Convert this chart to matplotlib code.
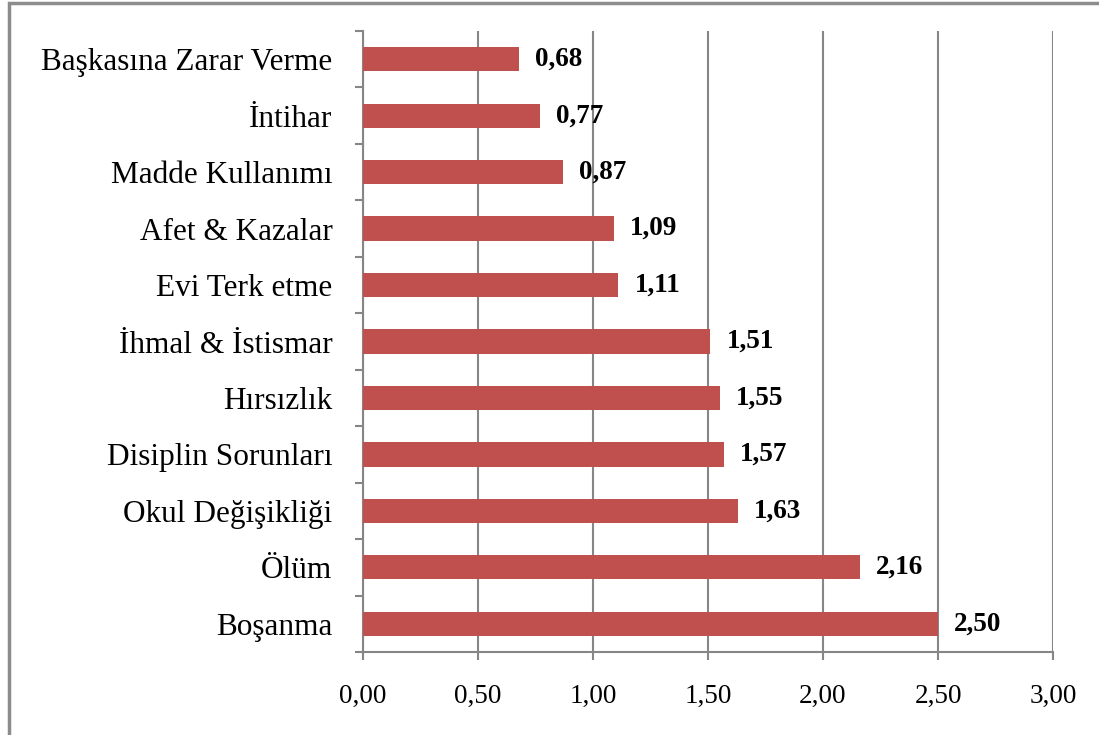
import numpy as np
import matplotlib.pyplot as plt
from matplotlib.patches import Rectangle

categories = ["Boşanma", "Ölüm", "Okul Değişikliği", "Disiplin Sorunları", "Hırsızlık",
              "İhmal & İstismar", "Evi Terk etme", "Afet & Kazalar", "Madde Kullanımı",
              "İntihar", "Başkasına Zarar Verme"]
values = [2.50, 2.16, 1.63, 1.57, 1.55, 1.51, 1.11, 1.09, 0.87, 0.77, 0.68]
xticks = [0, 0.5, 1.0, 1.5, 2.0, 2.5, 3.0]

plt.rcParams['font.family'] = ['Liberation Serif', 'DejaVu Serif']

fig = plt.figure(figsize=(10.99, 7.35), dpi=100)
ax = fig.add_axes([363/1099, 1 - 652/735, 690/1099, 621/735])

grid_c = '#868686'
y = np.arange(len(categories))
ax.barh(y, values, height=0.43, color='#C0504D', zorder=3)
for yi, v in zip(y, values):
    ax.text(v + 0.07, yi, ('%.2f' % v).replace('.', ','), va='center', ha='left',
            fontsize=19.5, fontweight='bold', zorder=4)

ax.set_xlim(0, 3)
ax.set_ylim(-0.5, len(categories) - 0.5)
ax.set_xticks(xticks)
ax.set_xticklabels([('%.2f' % t).replace('.', ',') for t in xticks], fontsize=19.5)
ax.set_yticks(y)
ax.set_yticklabels(categories, fontsize=22.5)
ax.set_yticks(np.arange(-0.5, len(categories), 1), minor=True)
ax.tick_params(axis='y', which='major', length=0, pad=22)
ax.tick_params(axis='y', which='minor', length=6, width=1.5, color=grid_c)
ax.tick_params(axis='x', length=6, width=1.5, color=grid_c, pad=17)
ax.xaxis.grid(True, color=grid_c, linewidth=1.5, zorder=0)
ax.set_axisbelow(True)
for s in ['top', 'right']:
    ax.spines[s].set_visible(False)
for s in ['left', 'bottom']:
    ax.spines[s].set_color(grid_c)
    ax.spines[s].set_linewidth(1.5)

fig.patches.append(Rectangle((9/1099, -0.05), 1.1, 1 - 3/735 + 0.05, transform=fig.transFigure,
                             fill=False, edgecolor='#8c8c8c', linewidth=2.5))

fig.savefig('out.png', dpi=100)
